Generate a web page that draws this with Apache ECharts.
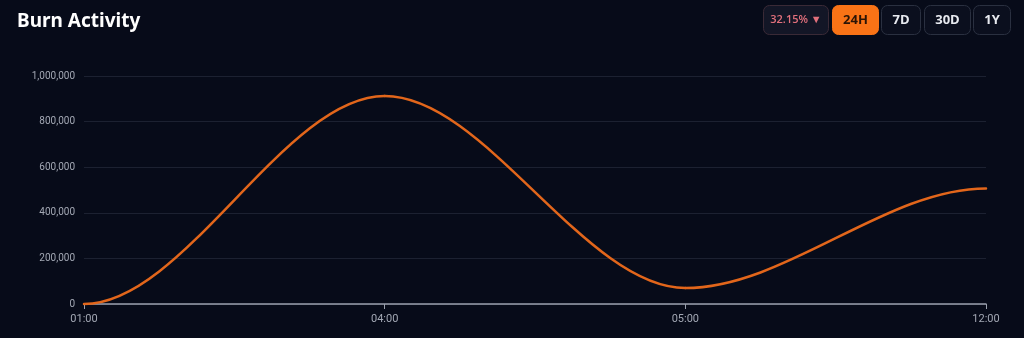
<!DOCTYPE html>
<html><head><meta charset="utf-8">
<script src="https://cdn.jsdelivr.net/npm/echarts@6/dist/echarts.min.js"></script>
<style>html,body{margin:0;padding:0;background:#070b19;}#c{width:1024px;height:338px;}</style>
</head><body><div id="c"></div>
<script>
const categories = ['01:00', '04:00', '05:00', '12:00'];
const burnValues = [0, 912000, 70000, 507000];
const yTicks = [0, 200000, 400000, 600000, 800000, 1000000];
const buttons = [
  { label: '32.15% ▼', x: 763, w: 65, active: false, color: '#e2707c' },
  { label: '24H', x: 832, w: 46, active: true, color: '#2a1406' },
  { label: '7D', x: 881, w: 39, active: false, color: '#e8eaf0' },
  { label: '30D', x: 924, w: 46, active: false, color: '#e8eaf0' },
  { label: '1Y', x: 973, w: 37, active: false, color: '#e8eaf0' }
];

const chart = echarts.init(document.getElementById('c'), null, { renderer: 'canvas' });
const graphics = buttons.map(b => {
  const pct = b.label.indexOf('%') >= 0;
  return {
    type: 'rect', left: b.x, top: 5,
    shape: { width: b.w, height: 29, r: 6 },
    style: {
      fill: b.active ? '#f97316' : (pct ? '#131626' : '#0b0f1e'),
      stroke: b.active ? '#f97316' : (pct ? '#3a2a36' : '#2a3040'),
      lineWidth: 1
    },
    textContent: {
      style: {
        text: b.label, fill: b.color,
        font: (pct ? '600 11px' : 'bold 13px') + ' "Open Sans", sans-serif'
      }
    },
    textConfig: { position: 'inside', insideFill: b.color, insideStroke: 'transparent' }
  };
});

const lineData = categories.map((c, i) => [i, burnValues[i]]);

chart.setOption({
  backgroundColor: '#070b19',
  animation: false,
  title: {
    text: 'Burn Activity', left: 12, top: 7,
    textStyle: { color: '#ffffff', fontSize: 19, fontWeight: 'bold', fontFamily: '"Noto Sans", sans-serif' }
  },
  graphic: graphics,
  grid: { left: 84, right: 38, top: 76, bottom: 34 },
  xAxis: {
    type: 'category', data: categories, boundaryGap: false,
    axisLine: { lineStyle: { color: '#9aa0ad', width: 1.5 } },
    axisTick: { show: true, alignWithLabel: true, length: 5, lineStyle: { color: '#9aa0ad' } },
    axisLabel: { color: '#a3a8b4', fontSize: 11, margin: 10, fontFamily: 'Roboto, sans-serif' },
    splitLine: { show: false }
  },
  yAxis: {
    type: 'value', min: 0, max: 1000000, interval: 200000,
    axisLine: { show: false }, axisTick: { show: false },
    axisLabel: {
      color: '#a3a8b4', fontSize: 10, margin: 9, fontFamily: 'Roboto, sans-serif',
      formatter: v => yTicks.indexOf(v) >= 0 ? v.toLocaleString('en-US') : ''
    },
    splitLine: { lineStyle: { color: '#1c2131', width: 1 } }
  },
  series: [{
    type: 'custom',
    data: lineData,
    clip: false,
    renderItem: function (params, api) {
      const i = params.dataIndex;
      if (i === 0) return null;
      const p0 = api.coord([i - 1, burnValues[i - 1]]);
      const p1 = api.coord([api.value(0), api.value(1)]);
      const mx = (p1[0] - p0[0]) / 3;
      return {
        type: 'bezierCurve',
        shape: {
          x1: p0[0], y1: p0[1],
          cpx1: p0[0] + mx, cpy1: p0[1],
          cpx2: p1[0] - mx, cpy2: p1[1],
          x2: p1[0], y2: p1[1]
        },
        style: { stroke: '#e2661b', lineWidth: 2.5, fill: null, lineCap: 'round' }
      };
    }
  }]
});
</script></body></html>
